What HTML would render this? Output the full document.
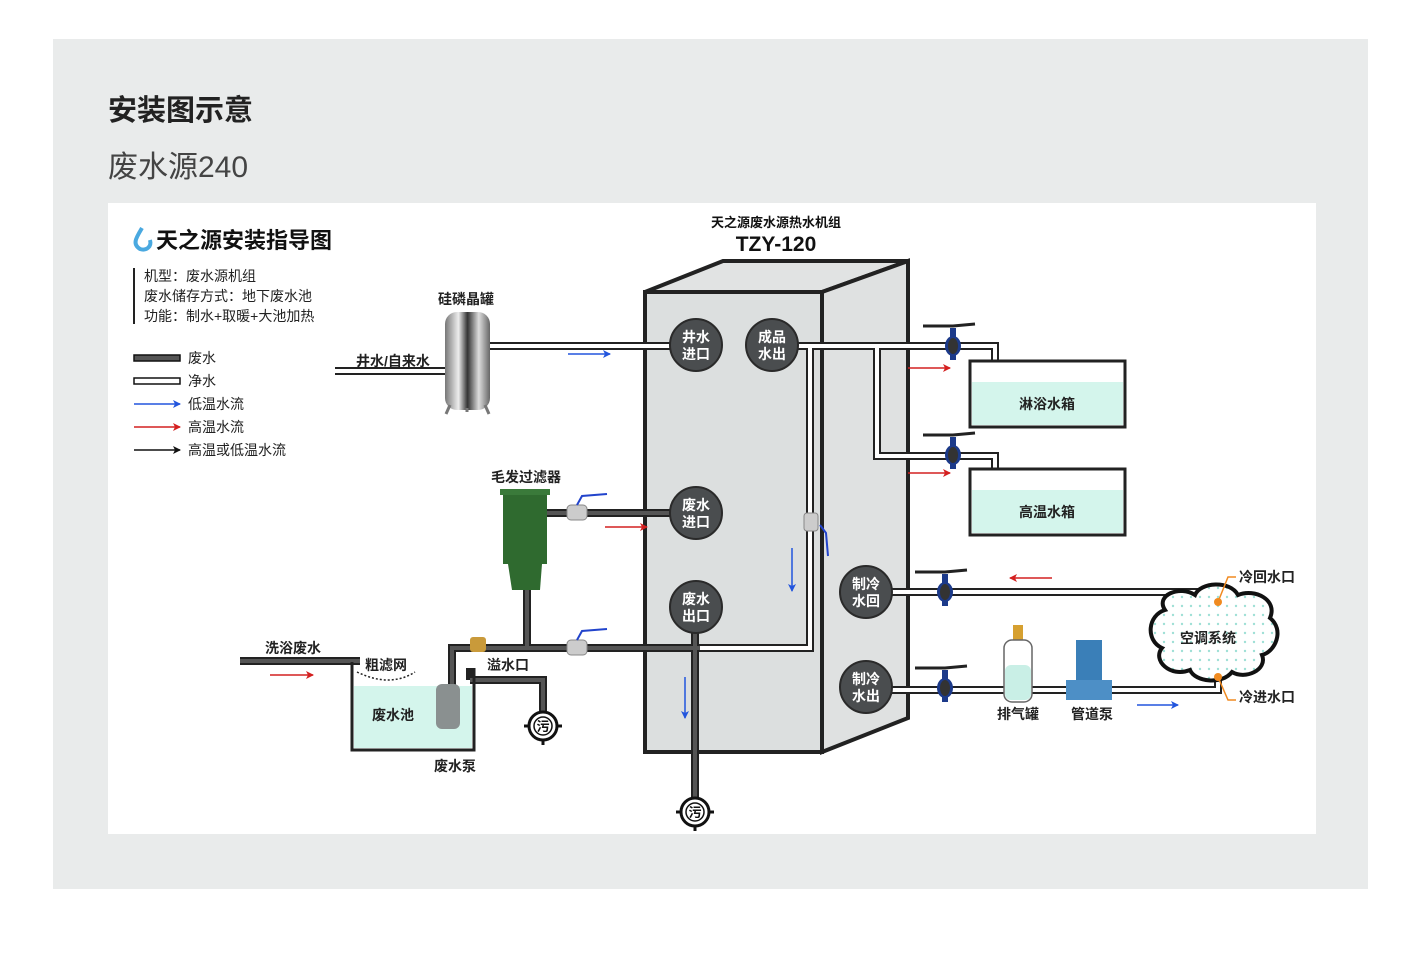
<!DOCTYPE html>
<html><head><meta charset="utf-8"><style>
body{margin:0;background:#fff;width:1420px;height:968px;overflow:hidden;font-family:"Liberation Sans","Noto Sans CJK SC",sans-serif}
svg text{font-family:"Liberation Sans","Noto Sans CJK SC",sans-serif}
</style></head><body>
<svg width="1420" height="968" viewBox="0 0 1420 968" xmlns="http://www.w3.org/2000/svg">
<defs>
<marker id="ab" markerWidth="8" markerHeight="8" refX="7" refY="4" orient="auto" markerUnits="userSpaceOnUse"><path d="M0,0 L8,4 L0,8 L2,4z" fill="#2255dd"/></marker>
<marker id="ar" markerWidth="8" markerHeight="8" refX="7" refY="4" orient="auto" markerUnits="userSpaceOnUse"><path d="M0,0 L8,4 L0,8 L2,4z" fill="#d42020"/></marker>
<marker id="ak" markerWidth="8" markerHeight="8" refX="7" refY="4" orient="auto" markerUnits="userSpaceOnUse"><path d="M0,0 L8,4 L0,8 L2,4z" fill="#111"/></marker>
<pattern id="dots" width="9" height="9" patternUnits="userSpaceOnUse"><rect width="9" height="9" fill="#fff"/><circle cx="3" cy="3" r="1.2" fill="#9fe0d6"/></pattern>
<linearGradient id="steel" x1="0" x2="1"><stop offset="0" stop-color="#777"/><stop offset="0.3" stop-color="#eee"/><stop offset="0.5" stop-color="#333"/><stop offset="0.75" stop-color="#ddd"/><stop offset="1" stop-color="#666"/></linearGradient>
<g id="valve"><path d="M-30,-20 L0,-20 L22,-22" stroke="#222" stroke-width="3" fill="none"/><rect x="-3" y="-18" width="6" height="10" fill="#1c3a8a"/><ellipse cx="0" cy="0" rx="8" ry="10" fill="#1c3a8a"/><ellipse cx="0" cy="0" rx="5" ry="8" fill="#333"/><rect x="-3" y="8" width="6" height="6" fill="#1c3a8a"/></g>
<g id="drain"><circle r="14" fill="#fff" stroke="#111" stroke-width="3"/><circle r="9" fill="#fff" stroke="#111" stroke-width="1.5"/><path d="M-19,0h5M14,0h5M0,14v5" stroke="#111" stroke-width="3"/><text x="0" y="5" font-size="13" font-weight="bold" text-anchor="middle" fill="#111">污</text></g>
</defs>
<rect x="53" y="39" width="1315" height="850" fill="#e9ebeb"/>
<text x="108" y="120" font-size="29" font-weight="bold" fill="#222">安装图示意</text>
<text x="108" y="177" font-size="30" fill="#444">废水源240</text>
<rect x="108" y="203" width="1208" height="631" fill="#fff"/>

<!-- logo + legend -->
<path d="M142,228 C136,238 132,244 140,249 C146,251 152,247 150,240" fill="none" stroke="#4aa9e0" stroke-width="4"/>
<text x="156" y="248" font-size="22" font-weight="bold" fill="#111">天之源安装指导图</text>
<rect x="133" y="268" width="2" height="56" fill="#222"/>
<g font-size="14" fill="#222"><text x="144" y="281">机型：废水源机组</text><text x="144" y="301">废水储存方式：地下废水池</text><text x="144" y="321">功能：制水+取暖+大池加热</text></g>
<rect x="134" y="355" width="46" height="6" fill="#555" stroke="#111" stroke-width="1.5"/>
<rect x="134" y="378" width="46" height="6" fill="#fff" stroke="#111" stroke-width="1.5"/>
<line x1="134" y1="404" x2="180" y2="404" stroke="#2255dd" stroke-width="1.5" marker-end="url(#ab)"/>
<line x1="134" y1="427" x2="180" y2="427" stroke="#d42020" stroke-width="1.5" marker-end="url(#ar)"/>
<line x1="134" y1="450" x2="180" y2="450" stroke="#111" stroke-width="1.5" marker-end="url(#ak)"/>
<g font-size="14" fill="#222"><text x="188" y="363">废水</text><text x="188" y="386">净水</text><text x="188" y="409">低温水流</text><text x="188" y="432">高温水流</text><text x="188" y="455">高温或低温水流</text></g>

<!-- main unit -->
<text x="776" y="227" font-size="13" font-weight="bold" text-anchor="middle" fill="#111">天之源废水源热水机组</text>
<text x="776" y="251" font-size="21" font-weight="bold" text-anchor="middle" fill="#111">TZY-120</text>
<polygon points="645,292 723,261 908,261 822,292" fill="#e1e3e3" stroke="#222" stroke-width="4"/>
<polygon points="822,292 908,261 908,718 822,752" fill="#dfe1e1" stroke="#222" stroke-width="4"/>
<rect x="645" y="292" width="177" height="460" fill="#dcdfdf" stroke="#222" stroke-width="4"/>

<!-- clean pipes -->
<g fill="none" stroke-linejoin="miter">
<g stroke="#222" stroke-width="8">
<path d="M335,371 H445"/><path d="M490,346 H670"/>
<path d="M798,346 H995 V375"/><path d="M877,346 V456 H995 V485"/>
<path d="M810,346 V648 H700"/>
<path d="M890,592 H1218 V602"/><path d="M890,690 H1218 V677"/>
</g>
<g stroke="#fff" stroke-width="4">
<path d="M335,371 H445"/><path d="M490,346 H670"/>
<path d="M798,346 H995 V375"/><path d="M877,346 V456 H995 V485"/>
<path d="M810,346 V648 H700"/>
<path d="M890,592 H1218 V602"/><path d="M890,690 H1218 V677"/>
</g>
<!-- waste pipes -->
<g stroke="#222" stroke-width="8">
<path d="M547,513 H670"/><path d="M527,585 V648"/><path d="M452,690 V648 H700"/><path d="M695,632 V800"/>
<path d="M240,661 H360"/><path d="M470,680 H543 V712"/><path d="M470,680 V668"/>
</g>
<g stroke="#555" stroke-width="4">
<path d="M547,513 H670"/><path d="M527,585 V648"/><path d="M452,690 V648 H700"/><path d="M695,632 V800"/>
<path d="M240,661 H360"/><path d="M470,680 H543 V712"/>
</g>
</g>

<!-- circles -->
<g fill="#4a4d4f" stroke="#2a2a2a" stroke-width="2">
<circle cx="696" cy="345" r="26"/><circle cx="772" cy="345" r="26"/><circle cx="696" cy="513" r="26"/><circle cx="696" cy="607" r="26"/><circle cx="866" cy="592" r="26"/><circle cx="866" cy="687" r="26"/>
</g>
<g font-size="14" font-weight="bold" fill="#fff" text-anchor="middle">
<text x="696" y="342">井水</text><text x="696" y="359">进口</text>
<text x="772" y="342">成品</text><text x="772" y="359">水出</text>
<text x="696" y="510">废水</text><text x="696" y="527">进口</text>
<text x="696" y="604">废水</text><text x="696" y="621">出口</text>
<text x="866" y="589">制冷</text><text x="866" y="606">水回</text>
<text x="866" y="684">制冷</text><text x="866" y="701">水出</text>
</g>

<!-- tanks -->
<rect x="970" y="361" width="155" height="66" fill="#fff" stroke="#222" stroke-width="3"/>
<rect x="972" y="382" width="151" height="43" fill="#d4f5ec"/>
<rect x="970" y="469" width="155" height="66" fill="#fff" stroke="#222" stroke-width="3"/>
<rect x="972" y="490" width="151" height="43" fill="#d4f5ec"/>
<g font-size="14" font-weight="bold" fill="#222" text-anchor="middle"><text x="1047" y="409">淋浴水箱</text><text x="1047" y="517">高温水箱</text></g>
<use href="#valve" x="953" y="346"/><use href="#valve" x="953" y="455"/>
<use href="#valve" x="945" y="592"/><use href="#valve" x="945" y="688"/>

<!-- arrows -->
<line x1="908" y1="368" x2="950" y2="368" stroke="#d42020" stroke-width="1.5" marker-end="url(#ar)"/>
<line x1="908" y1="473" x2="950" y2="473" stroke="#d42020" stroke-width="1.5" marker-end="url(#ar)"/>
<line x1="1052" y1="578" x2="1010" y2="578" stroke="#d42020" stroke-width="1.5" marker-end="url(#ar)"/>
<line x1="1137" y1="705" x2="1178" y2="705" stroke="#2255dd" stroke-width="1.5" marker-end="url(#ab)"/>
<line x1="568" y1="354" x2="610" y2="354" stroke="#2255dd" stroke-width="1.5" marker-end="url(#ab)"/>
<line x1="605" y1="527" x2="647" y2="527" stroke="#d42020" stroke-width="1.5" marker-end="url(#ar)"/>
<line x1="270" y1="675" x2="313" y2="675" stroke="#d42020" stroke-width="1.5" marker-end="url(#ar)"/>
<line x1="792" y1="548" x2="792" y2="591" stroke="#2255dd" stroke-width="1.5" marker-end="url(#ab)"/>
<line x1="685" y1="677" x2="685" y2="718" stroke="#2255dd" stroke-width="1.5" marker-end="url(#ab)"/>

<!-- cloud -->
<path d="M1165,610 C1155,595 1180,585 1195,595 C1200,582 1230,580 1238,595 C1255,588 1278,600 1270,618 C1285,630 1275,652 1262,655 C1268,670 1245,680 1232,672 C1222,685 1195,682 1190,670 C1170,678 1152,660 1162,648 C1145,640 1148,615 1165,610Z" fill="url(#dots)" stroke="#111" stroke-width="4"/>
<text x="1208" y="643" font-size="14" font-weight="bold" text-anchor="middle" fill="#222">空调系统</text>
<circle cx="1218" cy="602" r="4" fill="#f08a20"/><circle cx="1218" cy="677" r="4" fill="#f08a20"/>
<path d="M1218,602 L1228,577 H1236 M1218,677 L1228,700 H1236" stroke="#f08a20" stroke-width="1.5" fill="none"/>
<g font-size="14" font-weight="bold" fill="#222"><text x="1239" y="582">冷回水口</text><text x="1239" y="702">冷进水口</text></g>

<!-- exhaust tank & pump -->
<rect x="1013" y="625" width="10" height="15" fill="#d6a030"/>
<rect x="1004" y="640" width="28" height="62" rx="8" fill="#fff" stroke="#666" stroke-width="1.5"/>
<rect x="1005" y="665" width="26" height="35" rx="6" fill="#c9efe6"/>
<rect x="1076" y="640" width="26" height="40" fill="#3a7fb8"/><rect x="1066" y="680" width="46" height="20" fill="#4d8fc6"/>
<g font-size="14" font-weight="bold" fill="#222" text-anchor="middle"><text x="1018" y="719">排气罐</text><text x="1092" y="719">管道泵</text></g>

<!-- silicon tank -->
<rect x="445" y="312" width="45" height="98" rx="12" fill="url(#steel)"/>
<path d="M450,405 L446,414 M485,405 L489,414 M467,408 V412" stroke="#777" stroke-width="3"/>
<text x="466" y="304" font-size="14" font-weight="bold" text-anchor="middle" fill="#222">硅磷晶罐</text>
<text x="393" y="366" font-size="14" font-weight="bold" text-anchor="middle" fill="#222">井水/自来水</text>

<!-- hair filter -->
<rect x="503" y="492" width="44" height="72" fill="#2f6a2f"/>
<rect x="500" y="489" width="50" height="6" fill="#3a7a3a"/>
<path d="M508,564 H542 L540,590 H512z" fill="#2f6a2f"/>
<text x="526" y="482" font-size="14" font-weight="bold" text-anchor="middle" fill="#222">毛发过滤器</text>
<rect x="567" y="505" width="20" height="15" rx="4" fill="#ccc" stroke="#888"/><path d="M577,505 L582,496 L607,494" stroke="#2244cc" stroke-width="2" fill="none"/>
<rect x="567" y="640" width="20" height="15" rx="4" fill="#ccc" stroke="#888"/><path d="M577,640 L582,631 L607,629" stroke="#2244cc" stroke-width="2" fill="none"/>
<rect x="804" y="513" width="14" height="18" rx="3" fill="#ccc" stroke="#888"/><path d="M820,525 L826,533 L828,556" stroke="#2244cc" stroke-width="2" fill="none"/>
<rect x="470" y="637" width="16" height="15" rx="3" fill="#c99a3a"/>

<!-- pool -->
<path d="M352,662 V750 H474 V668" fill="none" stroke="#222" stroke-width="3"/>
<rect x="354" y="686" width="118" height="62" fill="#d4f5ec"/>
<path d="M357,672 Q390,688 415,672" fill="none" stroke="#222" stroke-width="1.5" stroke-dasharray="2,2"/>
<rect x="436" y="684" width="24" height="45" rx="6" fill="#8a9090"/>
<g font-size="14" font-weight="bold" fill="#222"><text x="393" y="720" text-anchor="middle">废水池</text><text x="386" y="670" text-anchor="middle">粗滤网</text><text x="293" y="653" text-anchor="middle">洗浴废水</text><text x="508" y="670" text-anchor="middle">溢水口</text><text x="455" y="771" text-anchor="middle">废水泵</text></g>
<use href="#drain" x="543" y="726"/><use href="#drain" x="695" y="812"/>
</svg>
</body></html>
